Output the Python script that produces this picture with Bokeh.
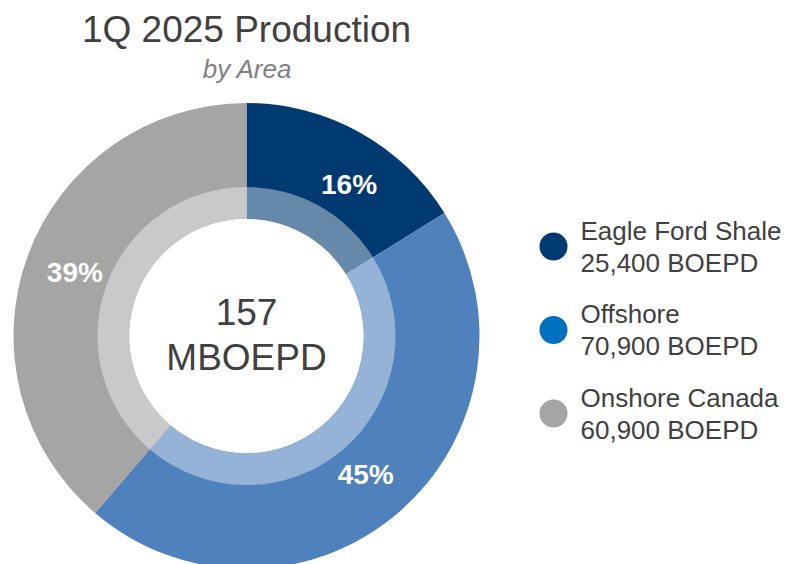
import math
from bokeh.plotting import figure
from bokeh.models import Range1d, ColumnDataSource
from bokeh.core.properties import value
from bokeh.embed import file_html
from bokeh.resources import INLINE

# ---- data ----
areas = ["Eagle Ford Shale", "Offshore", "Onshore Canada"]
production_boepd = [25400, 70900, 60900]
slice_colors = ["#003A70", "#4F81BD", "#A5A5A5"]
legend_colors = ["#003A70", "#0070C0", "#A5A5A5"]
title_text = "1Q 2025 Production"
subtitle_text = "by Area"
center_lines = ["157", "MBOEPD"]
label_angle_nudge_deg = [5.0, 0.0, 0.0]

W, H = 790, 564
p = figure(width=W, height=H, output_backend="svg", toolbar_location=None,
           x_range=Range1d(0, W), y_range=Range1d(0, H),
           min_border=0, outline_line_color=None)
p.axis.visible = False
p.grid.visible = False
p.background_fill_color = "white"
p.border_fill_color = "white"

def Y(ys):  # screen y -> data y
    return H - ys

cx, cy = 246, Y(335.5)
R_OUT, R_MID, R_IN = 233, 149, 117

total = sum(production_boepd)
fracs = [v / total for v in production_boepd]
starts, ends, mids = [], [], []
acc = 0.0
for f in fracs:
    a0 = math.pi / 2 - 2 * math.pi * acc
    a1 = math.pi / 2 - 2 * math.pi * (acc + f)
    starts.append(a1)
    ends.append(a0)
    mids.append((a0 + a1) / 2)
    acc += f

src = ColumnDataSource(dict(start=starts, end=ends, color=slice_colors))
p.annular_wedge(x=cx, y=cy, inner_radius=R_IN, outer_radius=R_OUT,
                start_angle="start", end_angle="end", fill_color="color",
                line_color=None, source=src)
# lighter inner band
p.annular_wedge(x=cx, y=cy, inner_radius=R_IN, outer_radius=R_MID,
                start_angle="start", end_angle="end", fill_color="white",
                fill_alpha=0.4, line_color=None, source=src)
# white hole
p.circle(x=cx, y=cy, radius=R_IN, fill_color="white", line_color=None)

# percentage labels
R_LAB = 183
lx, ly, lt = [], [], []
for m, f, n in zip(mids, fracs, label_angle_nudge_deg):
    a = m - math.radians(n)
    lx.append(cx + R_LAB * math.cos(a))
    ly.append(cy + R_LAB * math.sin(a))
    lt.append(f"{round(f * 100)}%")
p.text(x=lx, y=ly, text=lt, text_color="white", text_font=value("Liberation Sans"),
       text_font_style="bold", text_font_size="28px", text_align="center",
       text_baseline="middle")

# center text
p.text(x=[cx, cx], y=[Y(311), Y(357)], text=center_lines, text_color="#404040",
       text_font=value("Liberation Sans"), text_font_size="37px",
       text_align="center", text_baseline="middle")

# title
p.text(x=[246], y=[Y(28.5)], text=[title_text], text_color="#404040",
       text_font=value("Liberation Sans"), text_font_size="37px",
       text_align="center", text_baseline="middle")
p.text(x=[247], y=[Y(68)], text=[subtitle_text], text_color="#808080",
       text_font=value("Liberation Sans"), text_font_style="italic",
       text_font_size="26px", text_align="center", text_baseline="middle")

# legend
dot_ys = [246, 329.5, 413]
p.circle(x=[553] * 3, y=[Y(v) for v in dot_ys], radius=14,
         fill_color=legend_colors, line_color=None)
l1y, l2y, l1t, l2t = [], [], [], []
for dy, name, v in zip(dot_ys, areas, production_boepd):
    l1y.append(Y(dy - 16))
    l2y.append(Y(dy + 16))
    l1t.append(name)
    l2t.append(f"{v:,} BOEPD")
p.text(x=[580] * 6, y=l1y + l2y, text=l1t + l2t, text_color="#404040",
       text_font=value("Liberation Sans"), text_font_size="26px",
       text_align="left", text_baseline="middle")

open("out.html", "w").write(file_html(p, INLINE))
